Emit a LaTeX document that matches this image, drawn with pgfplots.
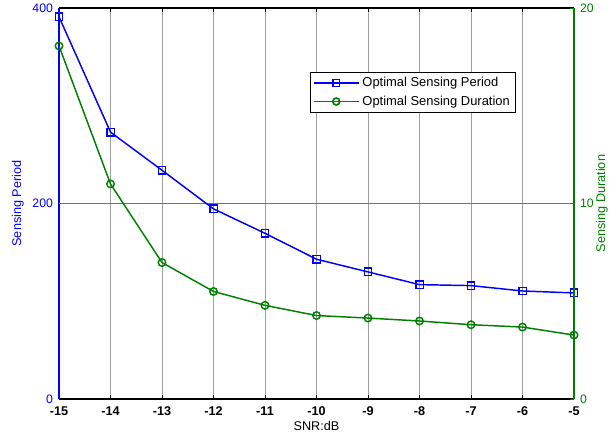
\documentclass[border=0pt]{standalone}
\usepackage{fontspec}
\setmainfont{Liberation Sans}
\usepackage{pgfplots}
\pgfplotsset{compat=1.18}

\definecolor{mblue}{RGB}{0,0,255}
\definecolor{mgreen}{RGB}{0,128,0}
\definecolor{gridblue}{RGB}{95,95,255}

\pgfplotsset{
  common/.style={
    scale only axis,
    width=386.25pt, height=293.25pt,
    at={(44.25pt,27pt)}, anchor=south west,
    xmin=-15, xmax=-5,
    /pgf/number format/assume math mode=true,
    tick label style={font=\fontsize{9.2}{10}\selectfont},
    label style={font=\fontsize{9.5}{10}\selectfont},
    major tick length=3pt,
    tick align=inside,
  },
}

\begin{document}
\begin{tikzpicture}
\useasboundingbox (0,0) rectangle (462pt,326.25pt);

% left axis: sensing period
\begin{axis}[
  common,
  ymin=0, ymax=400,
  ytick={0,200,400},
  xtick={-15,-14,...,-5},
  axis x line*=box,
  axis y line*=left,
  y axis line style={mblue, line width=0.8pt},
  x axis line style={black, line width=0.8pt},
  yticklabel style={mblue, xshift=-1pt},
  xticklabel style={font=\fontsize{9.5}{10}\selectfont\bfseries, yshift=-2pt},
  ytick style={mblue},
  xtick style={black},
  xmajorgrids=true,
  x grid style={gray!75, line width=0.5pt},
  xlabel={SNR:dB},
  ylabel={Sensing Period},
  xlabel style={at={(axis description cs:0.5,-0.068)}, anchor=center},
  ylabel style={mblue, at={(axis description cs:-0.08,0.5)}, anchor=center, rotate=0},
]
% horizontal grid line of the left axis
\draw[draw=gridblue, line width=0.9pt] (axis cs:-15,200) -- (axis cs:-5,200);
\addplot[mblue, line width=1.1pt, mark=square, mark size=2.8pt,
         mark options={solid, line width=1.1pt}]
coordinates {
(-15,391) (-14,273) (-13,234) (-12,194.5) (-11,169.5) (-10,143)
(-9,130) (-8,117) (-7,116) (-6,110.5) (-5,108.5)
};
\end{axis}

% right axis: sensing duration
\begin{axis}[
  common,
  ymin=0, ymax=20,
  ytick={0,10,20},
  axis x line=none,
  axis y line*=right,
  y axis line style={mgreen, line width=0.8pt},
  yticklabel style={mgreen, xshift=1pt},
  ytick style={mgreen},
  ylabel={Sensing Duration},
  ylabel style={mgreen, at={(axis description cs:1.054,0.5)}, anchor=center, rotate=0},
  legend style={at={(axis cs:-10.13,16.75)}, anchor=north west,
    font=\fontsize{9.7}{11}\selectfont, draw=black,
    inner sep=2pt, row sep=1.5pt, fill=white},
  legend cell align=left,
  legend image code/.code={
    \draw[mark repeat=2, mark phase=2, #1]
      plot coordinates {(0pt,0pt) (17pt,0pt) (34pt,0pt)};
  },
]
\addplot[mgreen, line width=1.1pt, mark=o, mark size=2.8pt,
         mark options={solid, line width=1.1pt}, forget plot]
coordinates {
(-15,18.06) (-14,11.0) (-13,6.98) (-12,5.5) (-11,4.79) (-10,4.27)
(-9,4.14) (-8,3.99) (-7,3.8) (-6,3.68) (-5,3.27)
};
\addlegendimage{draw=mblue, line width=1.1pt, mark=square, mark size=2.6pt, mark options={solid, draw=mblue}}
\addlegendentry{Optimal Sensing Period}
\addlegendimage{draw=mgreen, line width=1.3pt, mark=o, mark size=2.6pt, mark options={solid, draw=mgreen}}
\addlegendentry{Optimal Sensing Duration}
\end{axis}
\end{tikzpicture}
\end{document}
